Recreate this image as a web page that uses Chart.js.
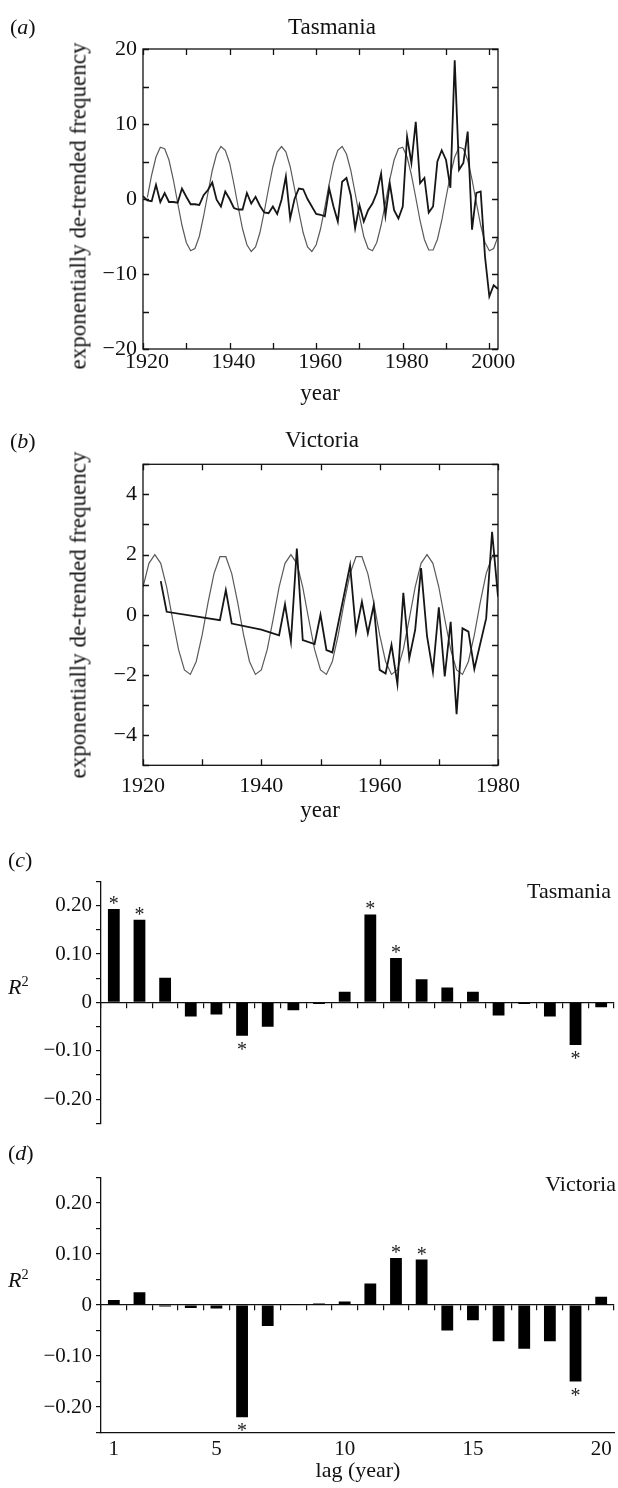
<!DOCTYPE html>
<html>
<head>
<meta charset="utf-8">
<script src="https://cdn.jsdelivr.net/npm/chart.js@4.4.1/dist/chart.umd.min.js"></script>
<style>
  html, body { margin: 0; padding: 0; background: #fff; }
  body { width: 618px; height: 1488px; position: relative; overflow: hidden;
         font-family: 'Liberation Serif', 'Times New Roman', serif; color: #111; }
  .p { position: absolute; left: 0; width: 618px; }
  .t { position: absolute; white-space: nowrap; line-height: 1; }
  .c { transform: translate(-50%, -50%); }
  .l { transform: translate(0, -50%); }
  .r { transform: translate(-100%, -50%); }
  .rot { transform: translate(-50%, -50%) rotate(-90deg); }
  sup { font-size: 0.65em; vertical-align: 0.55em; line-height: 0; }
</style>
</head>
<body>

<div class="p" style="top:0;height:420px"><canvas id="cA" width="618" height="420"></canvas></div>
<div class="p" style="top:420px;height:400px"><canvas id="cB" width="618" height="400"></canvas></div>
<div class="p" style="top:840px;height:300px"><canvas id="cC" width="618" height="300"></canvas></div>
<div class="p" style="top:1140px;height:348px"><canvas id="cD" width="618" height="348"></canvas></div>

<div class="t l" style="left:10px;top:27px;font-size:22px">(<i>a</i>)</div>
<div class="t c" style="left:332px;top:26px;font-size:23px">Tasmania</div>
<div class="t rot" style="left:78px;top:206px;font-size:23px">exponentially de-trended frequency</div>
<div class="t c" style="left:320px;top:392px;font-size:23px">year</div>

<div class="t l" style="left:10px;top:441px;font-size:22px">(<i>b</i>)</div>
<div class="t c" style="left:322px;top:439px;font-size:23px">Victoria</div>
<div class="t rot" style="left:78px;top:615px;font-size:23px">exponentially de-trended frequency</div>
<div class="t c" style="left:320px;top:809px;font-size:23px">year</div>

<div class="t l" style="left:8px;top:860px;font-size:22px">(<i>c</i>)</div>
<div class="t r" style="left:611px;top:891px;font-size:22px">Tasmania</div>
<div class="t l" style="left:8px;top:987px;font-size:22px"><i>R</i><sup>2</sup></div>

<div class="t l" style="left:8px;top:1153px;font-size:22px">(<i>d</i>)</div>
<div class="t r" style="left:616px;top:1184px;font-size:22px">Victoria</div>
<div class="t l" style="left:8px;top:1280px;font-size:22px"><i>R</i><sup>2</sup></div>
<div class="t c" style="left:358px;top:1470px;font-size:22px">lag (year)</div>

<script>
// ---------------- DATA ----------------
// (a) Tasmania: observed de-trended frequency and fitted cycle, by year
const tasYears = [1920,1921,1922,1923,1924,1925,1926,1927,1928,1929,
  1930,1931,1932,1933,1934,1935,1936,1937,1938,1939,
  1940,1941,1942,1943,1944,1945,1946,1947,1948,1949,
  1950,1951,1952,1953,1954,1955,1956,1957,1958,1959,
  1960,1961,1962,1963,1964,1965,1966,1967,1968,1969,
  1970,1971,1972,1973,1974,1975,1976,1977,1978,1979,
  1980,1981,1982,1983,1984,1985,1986,1987,1988,1989,
  1990,1991,1992,1993,1994,1995,1996,1997,1998,1999,
  2000,2001,2002];
const tasObserved = [0.4,-0.2,-0.3,1.9,-0.4,0.8,-0.4,-0.4,-0.5,1.4,
  0.3,-0.7,-0.7,-0.8,0.5,1.2,2.2,-0.1,-1.0,1.0,
  0.0,-1.2,-1.4,-1.4,0.8,-0.6,0.3,-0.9,-1.8,-1.9,
  -1.0,-2.0,-0.1,3.0,-2.6,0.0,1.4,1.3,0.0,-1.0,
  -2.0,-2.1,-2.3,1.4,-1.0,-3.0,2.3,2.8,0.5,-3.9,
  -0.8,-3.0,-1.5,-0.6,0.8,3.4,-2.2,2.1,-1.5,-2.6,
  -1.0,8.3,4.8,10.3,2.1,2.8,-1.8,-1.0,5.0,6.5,
  5.2,1.5,18.5,3.9,4.8,9.0,-4.1,0.8,1.0,-7.7,
  -13.0,-11.5,-12.0];
const tasFitted = [null,0.2,3.2,5.6,6.9,6.7,5.2,2.6,-0.5,-3.5,
  -5.8,-6.9,-6.6,-5.0,-2.3,0.8,3.8,6.0,7.0,6.5,
  4.8,2.0,-1.1,-4.0,-6.1,-7.0,-6.4,-4.5,-1.7,1.4,
  4.3,6.3,7.0,6.3,4.3,1.4,-1.7,-4.5,-6.4,-7.0,
  -6.1,-4.0,-1.1,2.0,4.8,6.5,7.0,6.0,3.8,0.8,
  -2.3,-5.0,-6.6,-6.9,-5.8,-3.5,-0.5,2.6,5.2,6.7,
  6.9,5.6,3.2,0.2,-2.9,-5.4,-6.8,-6.8,-5.4,-2.9,
  0.2,3.2,5.6,6.9,6.7,5.2,2.6,-0.5,-3.5,-5.8,
  -6.9,-6.6,-5.0];

// (b) Victoria: observed (years with recorded vertices) and fitted cycle
const vicObsYears = [1923,1924,1933,1934,1935,1940,1943,1944,1945,1946,
  1947,1949,1950,1951,1952,1955,1956,1957,1958,1959,
  1960,1961,1962,1963,1964,1965,1966,1967,1968,1969,
  1970,1971,1972,1973,1974,1975,1976,1978,1979,1980];
const vicObserved = [1.12,0.1,-0.18,0.82,-0.29,-0.49,-0.68,0.35,-0.89,2.2,
  -0.84,-0.97,0.0,-1.17,-1.25,1.65,-0.56,0.43,-0.62,0.32,
  -1.83,-1.95,-1.0,-2.3,0.73,-1.45,-0.5,1.55,-0.7,-1.9,
  0.25,-2.05,-0.23,-3.3,-0.45,-0.56,-1.8,-0.12,2.76,0.6];
const vicFitYears = [1920,1921,1922,1923,1924,1925,1926,1927,1928,1929,
  1930,1931,1932,1933,1934,1935,1936,1937,1938,1939,
  1940,1941,1942,1943,1944,1945,1946,1947,1948,1949,
  1950,1951,1952,1953,1954,1955,1956,1957,1958,1959,
  1960,1961,1962,1963,1964,1965,1966,1967,1968,1969,
  1970,1971,1972,1973,1974,1975,1976,1977,1978,1979,1980];
const vicFitted = [0.92,1.71,2.0,1.71,0.92,-0.14,-1.15,-1.83,-1.98,-1.55,
  -0.67,0.41,1.37,1.93,1.93,1.37,0.41,-0.67,-1.55,-1.98,
  -1.83,-1.15,-0.14,0.92,1.71,2.0,1.71,0.92,-0.14,-1.15,
  -1.83,-1.98,-1.55,-0.67,0.41,1.37,1.93,1.93,1.37,0.41,
  -0.67,-1.55,-1.98,-1.83,-1.15,-0.14,0.92,1.71,2.0,1.71,
  0.92,-0.14,-1.15,-1.83,-1.98,-1.55,-0.67,0.41,1.37,1.93,1.93];

// (c), (d) lagged R^2
const lagLabels = ['1','2','3','4','5','6','7','8','9','10','11','12','13','14','15','16','17','18','19','20'];
const lagShown = ['1','5','10','15','20'];
const tasR2 = [0.193,0.171,0.051,-0.029,-0.025,-0.069,-0.050,-0.016,-0.003,0.022,
  0.182,0.092,0.048,0.031,0.022,-0.027,-0.003,-0.029,-0.088,-0.010];
const tasSig = [1,1,0,0,0,1,0,0,0,0,1,1,0,0,0,0,0,0,1,0];
const vicR2 = [0.010,0.025,-0.003,-0.006,-0.007,-0.220,-0.041,0.002,0.003,0.007,
  0.042,0.092,0.089,-0.050,-0.030,-0.071,-0.086,-0.071,-0.150,0.016];
const vicSig = [0,0,0,0,0,1,0,0,0,0,0,1,1,0,0,0,0,0,1,0];

// ---------------- CHARTS ----------------
const FONT = "'Liberation Serif', 'Times New Roman', serif";
Chart.defaults.font.family = FONT;
Chart.defaults.color = '#111';
Chart.defaults.animation = false;
Chart.defaults.plugins.legend.display = false;
Chart.defaults.plugins.tooltip.enabled = false;

const neg = v => v < 0 ? '\u2212' + String(-v) : String(v);
const pts = (xs, ys) => xs.map((x, i) => ({ x: x, y: ys[i] }));

const framePlugin = {
  id: 'frame',
  afterDraw(chart) {
    const { ctx, chartArea: a, scales } = chart;
    const x = scales.x, y = scales.y, L = 6;
    ctx.save();
    ctx.strokeStyle = '#111';
    ctx.lineWidth = 1.3;
    ctx.strokeRect(a.left, a.top, a.right - a.left, a.bottom - a.top);
    ctx.beginPath();
    x.ticks.forEach(t => {
      const px = Math.round(x.getPixelForValue(t.value)) + 0.5;
      ctx.moveTo(px, a.bottom); ctx.lineTo(px, a.bottom - L);
      ctx.moveTo(px, a.top); ctx.lineTo(px, a.top + L);
    });
    y.ticks.forEach(t => {
      const py = Math.round(y.getPixelForValue(t.value)) + 0.5;
      ctx.moveTo(a.left, py); ctx.lineTo(a.left + L, py);
      ctx.moveTo(a.right, py); ctx.lineTo(a.right - L, py);
    });
    ctx.stroke();
    ctx.restore();
  }
};

function lineChart(id, obs, fit, xr, yr, xStepLbl, yStepLbl, pad) {
  return new Chart(document.getElementById(id), {
    type: 'line',
    data: { datasets: [
      { data: obs, borderColor: '#161616', borderWidth: 1.8, pointRadius: 0, tension: 0, spanGaps: false },
      { data: fit, borderColor: '#5a5a5a', borderWidth: 1.2, pointRadius: 0, tension: 0, spanGaps: false }
    ]},
    options: {
      responsive: false,
      layout: { padding: { top: pad.top, right: 120, left: 0, bottom: 0 } },
      scales: {
        x: { type: 'linear', min: xr[0], max: xr[1],
             afterFit: s => { s.height = pad.xh; },
             grid: { display: false, drawTicks: false }, border: { display: false },
             ticks: { stepSize: xr[2], includeBounds: false, autoSkip: false, maxRotation: 0,
                      padding: pad.xpad, labelOffset: pad.lo, font: { size: 22 },
                      callback: v => (v % xStepLbl === 0 ? String(v) : '') } },
        y: { type: 'linear', min: yr[0], max: yr[1],
             afterFit: s => { s.width = 143; },
             grid: { display: false, drawTicks: false }, border: { display: false },
             ticks: { stepSize: yr[2], includeBounds: false, autoSkip: false, padding: 6, font: { size: 22 },
                      callback: v => (v % yStepLbl === 0 ? neg(v) : '') } }
      }
    },
    plugins: [framePlugin]
  });
}

lineChart('cA', pts(tasYears, tasObserved), pts(tasYears, tasFitted),
  [1920, 2002, 10], [-20, 20, 5], 20, 10, { top: 49, xh: 71, xpad: 0, lo: 4 });
lineChart('cB', pts(vicObsYears, vicObserved), pts(vicFitYears, vicFitted),
  [1920, 1980, 10], [-5, 5, 1], 20, 2, { top: 44.3, xh: 54.7, xpad: 8, lo: 0 });

const starPlugin = {
  id: 'stars',
  afterDatasetsDraw(chart, args, opts) {
    const meta = chart.getDatasetMeta(0);
    const vals = chart.data.datasets[0].data;
    const ctx = chart.ctx;
    ctx.save();
    ctx.font = '20px ' + FONT;
    ctx.fillStyle = '#222';
    ctx.textAlign = 'center';
    ctx.textBaseline = 'alphabetic';
    opts.flags.forEach((f, i) => {
      if (!f) return;
      const el = meta.data[i];
      if (vals[i] >= 0) ctx.fillText('*', el.x, el.y + 1);
      else ctx.fillText('*', el.x, el.y + 20);
    });
    ctx.restore();
  }
};

const r2Label = v => {
  const c = Math.round(v * 100);
  if (c % 10 !== 0) return '';
  if (c === 0) return '0';
  const s = (Math.abs(c) / 100).toFixed(2);
  return c < 0 ? '\u2212' + s : s;
};

function barChart(id, vals, flags, pad, withBottom) {
  const scales = {
    x: { type: 'category', position: { y: 0 }, offset: true,
         grid: { offset: true, drawOnChartArea: false, drawTicks: true, tickLength: 5, color: '#111', lineWidth: 1.2 },
         border: { display: true, color: '#111', width: 1.3 },
         ticks: { display: false } },
    y: { type: 'linear', min: -0.25, max: 0.25,
         afterFit: s => { s.width = 101; },
         grid: { drawOnChartArea: false, drawTicks: true, tickLength: 5, color: '#111', lineWidth: 1.2 },
         border: { display: true, color: '#111', width: 1.3 },
         ticks: { stepSize: 0.05, autoSkip: false, padding: 4, font: { size: 21 }, callback: r2Label } }
  };
  if (withBottom) {
    scales.xb = { type: 'category', position: 'bottom', offset: true,
      afterFit: s => { s.height = pad.xh; },
      grid: { display: false, drawTicks: false },
      border: { display: true, color: '#111', width: 1.3 },
      ticks: { autoSkip: false, maxRotation: 0, padding: 4, font: { size: 21 },
               callback: (v, i) => (lagShown.includes(lagLabels[i]) ? lagLabels[i] : '') } };
  }
  return new Chart(document.getElementById(id), {
    type: 'bar',
    data: { labels: lagLabels, datasets: [
      { data: vals, backgroundColor: '#000', borderWidth: 0, categoryPercentage: 1, barPercentage: 0.46,
        xAxisID: 'x', yAxisID: 'y' }
    ]},
    options: {
      responsive: false,
      layout: { padding: { top: pad.top, bottom: pad.bottom, right: 4, left: 0 } },
      scales: scales,
      plugins: { stars: { flags: flags } }
    },
    plugins: [starPlugin]
  });
}

barChart('cC', tasR2, tasSig, { top: 41.5, bottom: 3.5 }, false);
barChart('cD', vicR2, vicSig, { top: 37.5, bottom: 0, xh: 55.5 }, true);
</script>
</body>
</html>
